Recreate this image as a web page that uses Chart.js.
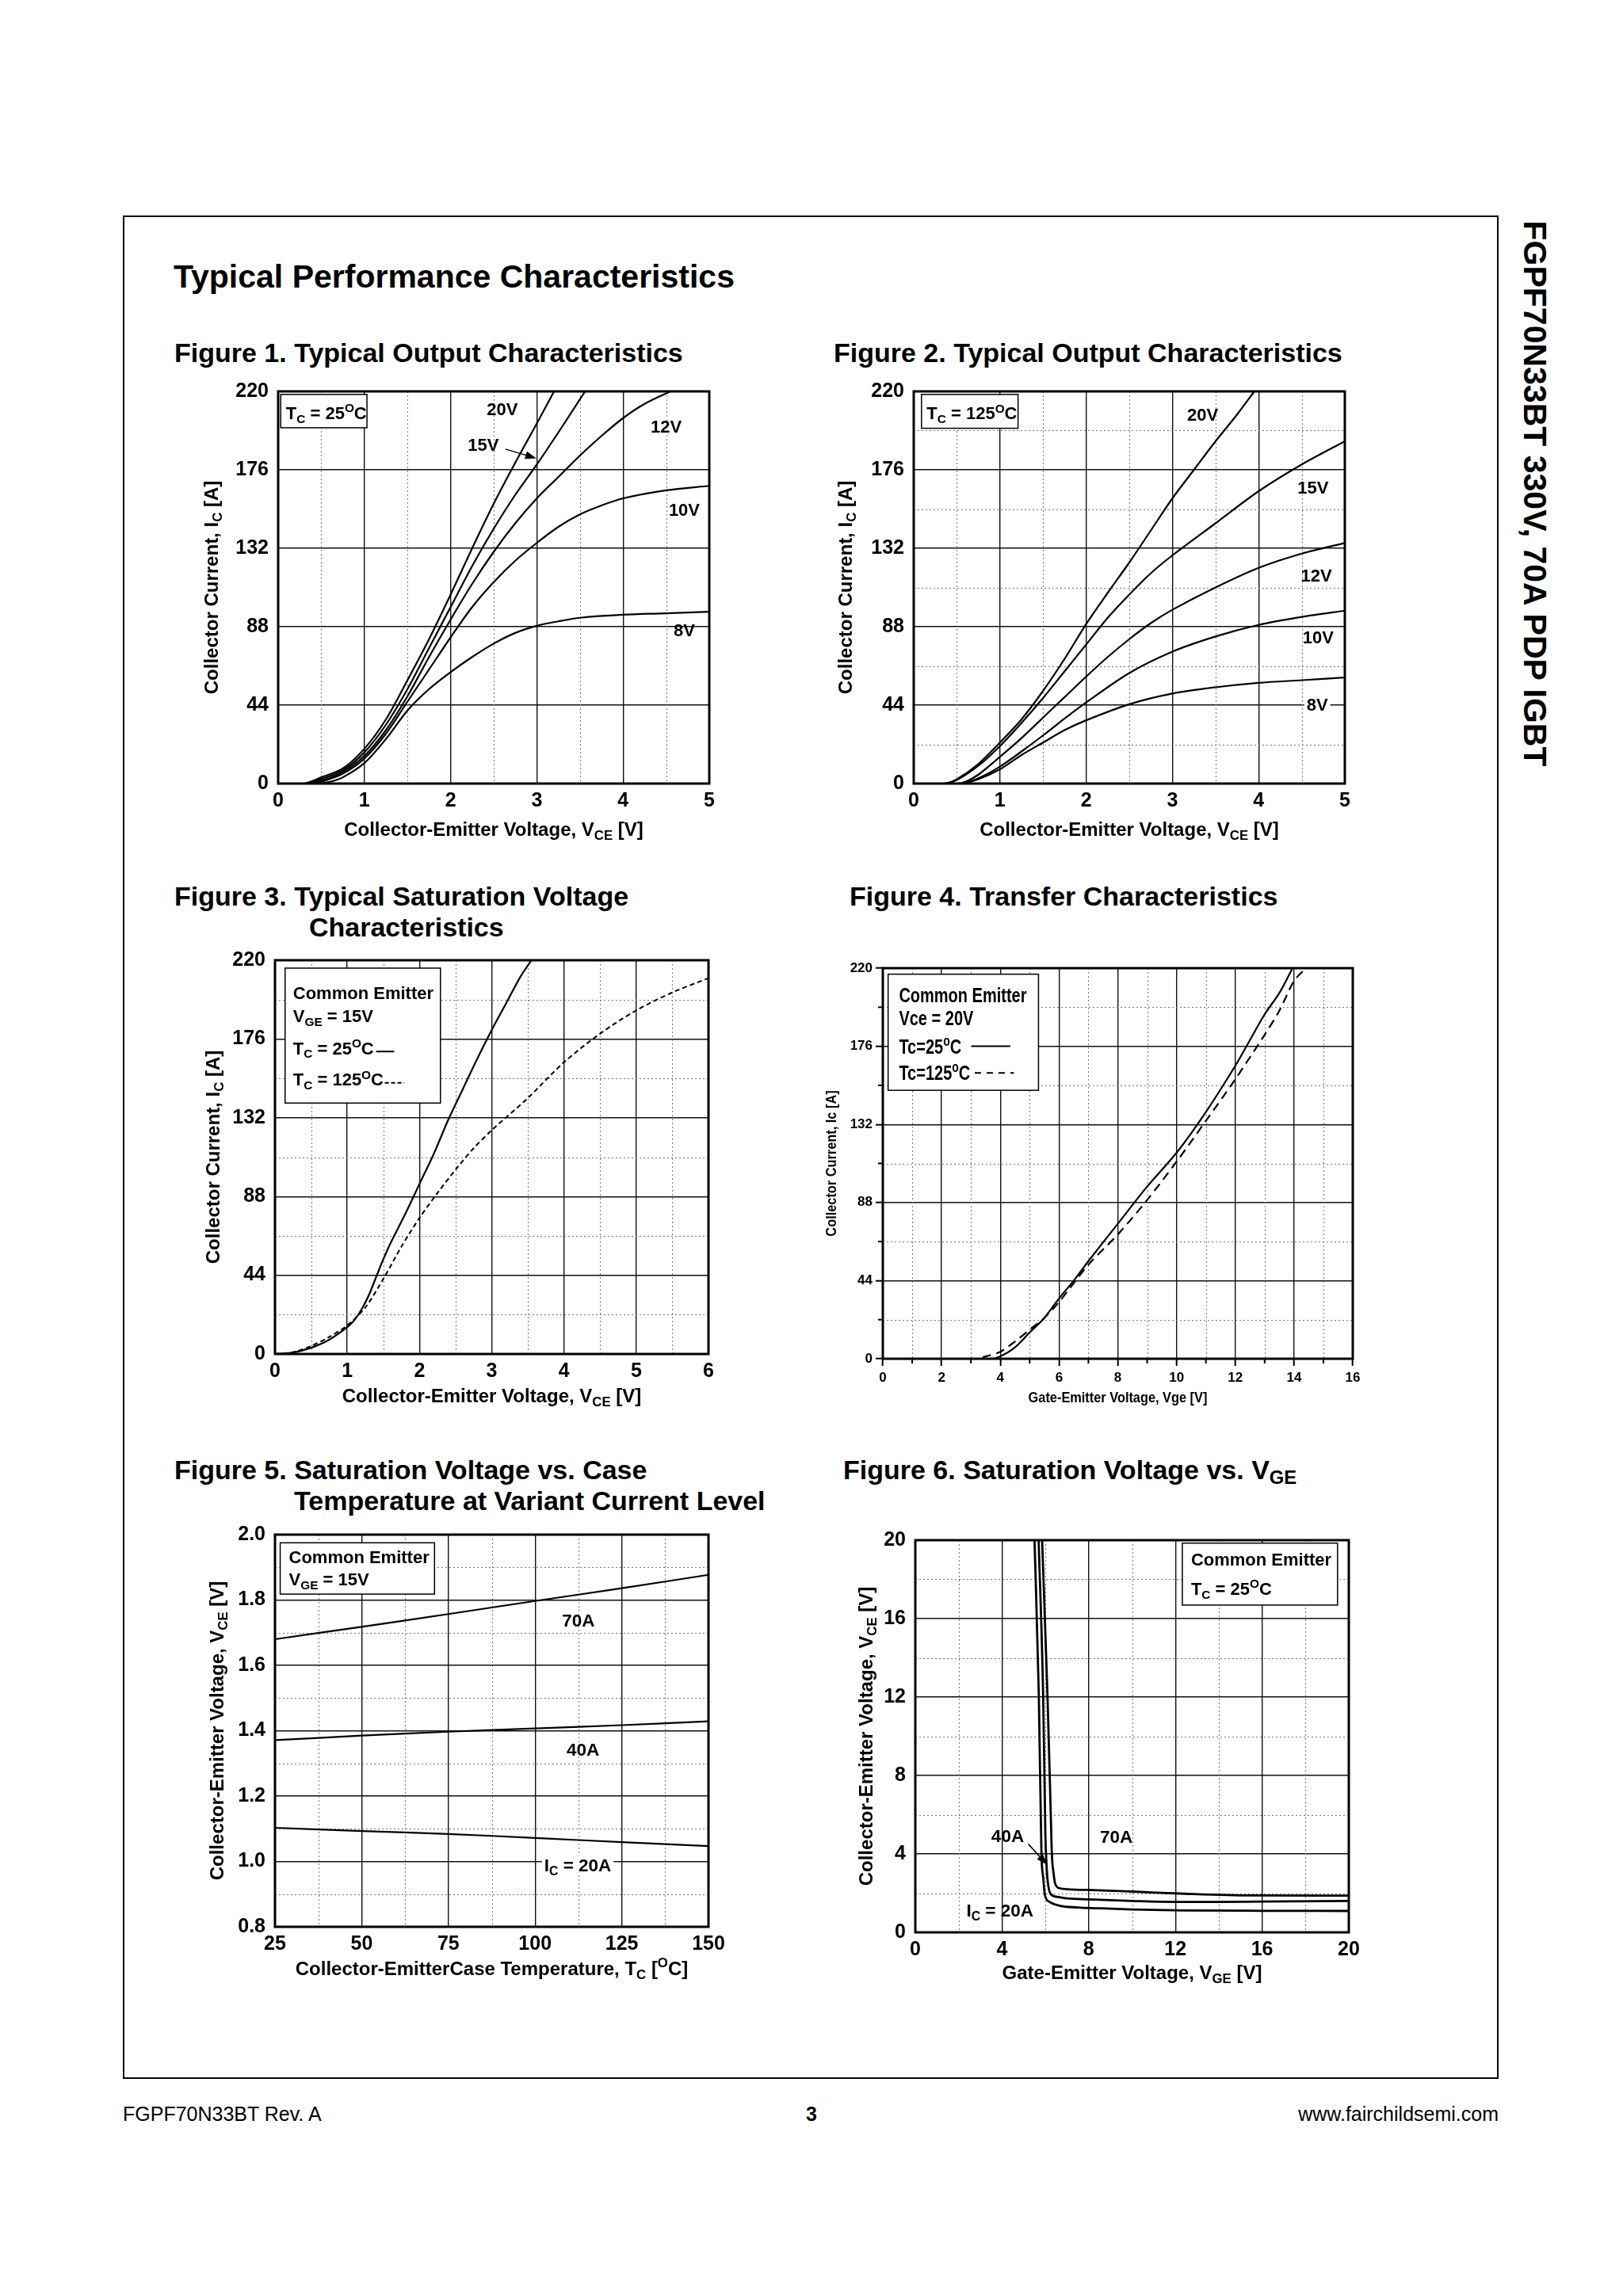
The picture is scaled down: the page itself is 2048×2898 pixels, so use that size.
<!DOCTYPE html>
<html>
<head>
<meta charset="utf-8">
<script src="https://cdn.jsdelivr.net/npm/chart.js@4.4.0/dist/chart.umd.min.js"></script>
<style>
  html, body { margin: 0; padding: 0; background: #fff; }
  body { width: 2048px; height: 2898px; position: relative; overflow: hidden;
         font-family: "Liberation Sans", Arial, sans-serif; color: #000; }
  .frame { position: absolute; left: 155px; top: 272px; width: 1736px; height: 2352px;
           border: 2px solid #000; box-sizing: border-box; }
  .h { position: absolute; font-weight: bold; white-space: nowrap; line-height: 1; }
  .f { position: absolute; white-space: nowrap; line-height: 1; font-size: 25px; }
  .side { position: absolute; left: 1936px; top: 623px; font-weight: bold; font-size: 41px;
          white-space: nowrap; line-height: 1; transform: translate(-50%, -50%) rotate(90deg); }
  sub { font-size: 70%; vertical-align: -0.25em; }
  canvas { position: absolute; }
</style>
</head>
<body>
<div class="frame"></div>
<div class="h" style="left:219px;top:329px;font-size:41px;">Typical Performance Characteristics</div>
<div class="h" style="left:220px;top:428px;font-size:34px;">Figure 1. Typical Output Characteristics</div>
<div class="h" style="left:1052px;top:428px;font-size:34px;">Figure 2. Typical Output Characteristics</div>
<div class="h" style="left:220px;top:1114px;font-size:34px;">Figure 3. Typical Saturation Voltage</div>
<div class="h" style="left:390px;top:1153px;font-size:34px;">Characteristics</div>
<div class="h" style="left:1072px;top:1114px;font-size:34px;">Figure 4. Transfer Characteristics</div>
<div class="h" style="left:220px;top:1838px;font-size:34px;">Figure 5. Saturation Voltage vs. Case</div>
<div class="h" style="left:371px;top:1877px;font-size:34px;">Temperature at Variant Current Level</div>
<div class="h" style="left:1064px;top:1838px;font-size:34px;">Figure 6. Saturation Voltage vs. V<sub>GE</sub></div>
<div class="side">FGPF70N33BT 330V, 70A PDP IGBT</div>
<div class="f" style="left:155px;top:2656px;">FGPF70N33BT Rev. A</div>
<div class="f" style="left:1024px;top:2656px;font-weight:bold;transform:translateX(-50%);">3</div>
<div class="f" style="right:157px;top:2656px;">www.fairchildsemi.com</div>

<script>
const FONT = '"Liberation Sans", Arial, sans-serif';

// ---- Figure 1: output characteristics, Tc = 25C ----
const f1XTicks = [0, 1, 2, 3, 4, 5];
const f1YTicks = [0, 44, 88, 132, 176, 220];
const f1x20 = [0, 0.3, 0.5, 0.75, 1.0, 1.25, 1.5, 1.75, 2.0, 2.25, 2.5, 2.75, 3.0, 3.2];
const f1y20 = [0, 0, 3.5, 8.5, 19.5, 36, 58, 81, 106, 132, 157, 180, 202, 220];
const f1x15 = [0, 0.3, 0.5, 0.75, 1.0, 1.25, 1.5, 1.75, 2.0, 2.25, 2.5, 2.75, 3.0, 3.25, 3.56];
const f1y15 = [0, 0, 2.5, 7.5, 17.5, 33, 53, 76, 99, 122, 143, 162, 179, 197, 220];
const f1x12 = [0, 0.35, 0.5, 0.75, 1.0, 1.25, 1.5, 1.75, 2.0, 2.25, 2.5, 2.75, 3.0, 3.25, 3.5, 3.75, 4.0, 4.25, 4.55];
const f1y12 = [0, 0, 1.5, 6.5, 15.5, 30, 49, 71, 92, 112, 130, 146, 160, 172, 184, 195, 205, 213, 220];
const f1x10 = [0, 0.4, 0.5, 0.75, 1.0, 1.25, 1.5, 1.75, 2.0, 2.25, 2.5, 2.75, 3.0, 3.25, 3.5, 3.75, 4.0, 4.5, 5.0];
const f1y10 = [0, 0, 1, 5.5, 14, 28, 46, 64, 82, 99, 113, 125, 135, 144, 151, 156, 160, 164.5, 167];
const f1x8 = [0, 0.45, 0.6, 0.75, 1.0, 1.25, 1.5, 1.75, 2.0, 2.25, 2.5, 2.75, 3.0, 3.25, 3.5, 4.0, 4.5, 5.0];
const f1y8 = [0, 0, 1, 3.5, 11.5, 25, 41, 53, 62.5, 71, 78.5, 84.5, 88.5, 91, 93, 94.7, 95.5, 96.4];

// ---- Figure 2: output characteristics, Tc = 125C ----
const f2x20 = [0, 0.35, 0.5, 0.75, 1.0, 1.25, 1.5, 1.75, 2.0, 2.25, 2.5, 2.75, 3.0, 3.25, 3.5, 3.75, 3.95];
const f2y20 = [0, 0, 2.5, 11, 23, 36, 52, 70, 89.5, 107, 124, 142, 160, 176, 192, 207, 220];
const f2x15 = [0, 0.35, 0.5, 0.75, 1.0, 1.25, 1.5, 1.75, 2.0, 2.25, 2.5, 2.75, 3.0, 3.5, 4.0, 4.5, 5.0];
const f2y15 = [0, 0, 2, 10, 21, 34, 48, 63, 78, 93, 106, 118, 128, 146, 164, 179, 192];
const f2x12 = [0, 0.5, 0.6, 0.75, 1.0, 1.25, 1.5, 1.75, 2.0, 2.25, 2.5, 2.75, 3.0, 3.5, 4.0, 4.5, 5.0];
const f2y12 = [0, 0, 1, 5, 15, 25.5, 37, 48.5, 60, 71, 81, 90, 97.5, 110, 121, 129, 135];
const f2x10 = [0, 0.55, 0.75, 1.0, 1.25, 1.5, 1.75, 2.0, 2.5, 3.0, 3.5, 4.0, 4.5, 5.0];
const f2y10 = [0, 0, 3, 9.5, 18, 27, 36.5, 45.5, 62, 74, 82.5, 89, 93.5, 97];
const f2x8 = [0, 0.55, 0.75, 1.0, 1.25, 1.5, 1.75, 2.0, 2.5, 3.0, 3.5, 4.0, 4.5, 5.0];
const f2y8 = [0, 0, 2.5, 8, 16, 23, 30, 35.5, 44.5, 50.5, 54, 56.5, 58, 59.5];

// ---- Figure 3: saturation voltage, VGE = 15V ----
const f3XTicks = [0, 1, 2, 3, 4, 5, 6];
const f3x25 = [0, 0.25, 0.5, 0.75, 1.0, 1.1, 1.2, 1.3, 1.4, 1.5, 1.6, 1.8, 2.0, 2.2, 2.4, 2.6, 2.8, 3.0, 3.2, 3.4, 3.55];
const f3y25 = [0, 0.8, 3.5, 8, 15, 19, 25, 33, 43, 53, 62, 78, 95, 112, 131, 148, 165, 181, 196, 211, 220];
const f3x125 = [0, 0.25, 0.5, 0.75, 1.0, 1.25, 1.5, 1.75, 2.0, 2.25, 2.5, 2.75, 3.0, 3.5, 4.0, 4.5, 5.0, 5.5, 6.0];
const f3y125 = [0, 1, 4.5, 9.5, 16, 26, 42, 60, 76, 90, 103, 115, 125, 143, 163, 179, 192, 202, 210];

// ---- Figure 4: transfer characteristics, Vce = 20V ----
const f4XTicks = [0, 2, 4, 6, 8, 10, 12, 14, 16];
const f4x25 = [0, 3.7, 4.0, 4.5, 5.0, 5.5, 6.0, 6.5, 7.0, 8.0, 9.0, 10.0, 11.0, 12.0, 12.5, 13.0, 13.5, 13.95];
const f4y25 = [0, 0, 1.3, 6.4, 14.8, 23, 34, 44, 55, 76, 97, 116, 139, 165, 179.5, 194, 206, 220];
const f4x125 = [0, 3.2, 3.5, 4.0, 4.5, 5.0, 5.5, 6.0, 7.0, 8.0, 9.0, 10.0, 11.0, 12.0, 13.0, 13.5, 14.0, 14.4];
const f4y125 = [0, 0, 1.3, 3.9, 9.7, 16.4, 23, 32, 53, 70, 89.4, 111, 134, 157.4, 182.5, 196, 212.8, 220];

// ---- Figure 5: VCE vs case temperature ----
const f5XTicks = [25, 50, 75, 100, 125, 150];
const f5YTicks = [0.8, 1.0, 1.2, 1.4, 1.6, 1.8, 2.0];
const f5Temp = [25, 50, 75, 100, 125, 150];
const f5v70 = [1.68, 1.718, 1.757, 1.797, 1.836, 1.877];
const f5v40 = [1.371, 1.385, 1.397, 1.407, 1.417, 1.429];
const f5v20 = [1.103, 1.093, 1.084, 1.072, 1.059, 1.047];

// ---- Figure 6: VCE vs VGE ----
const f6Ticks = [0, 4, 8, 12, 16, 20];
const f6x70 = [5.85, 6.1, 6.25, 6.3, 6.38, 6.45, 6.65, 7, 8.4, 10, 12.4, 15.5, 20];
const f6y70 = [20, 12, 6, 4, 3, 2.5, 2.25, 2.2, 2.15, 2.08, 1.97, 1.88, 1.87];
const f6x40 = [5.69, 5.9, 6.0, 6.05, 6.12, 6.25, 6.6, 7, 8, 10, 12, 14, 16, 20];
const f6y40 = [20, 12, 5, 3.5, 2.5, 1.95, 1.8, 1.73, 1.68, 1.6, 1.55, 1.55, 1.57, 1.6];
const f6x20 = [5.5, 5.7, 5.82, 5.9, 5.98, 6.2, 6.65, 7.5, 8.4, 10, 12.4, 16, 20];
const f6y20 = [20, 12, 4, 2.8, 1.9, 1.55, 1.36, 1.27, 1.23, 1.17, 1.12, 1.1, 1.09];

// minor (dotted) grid positions
const halfSteps5 = [0.5, 1.5, 2.5, 3.5, 4.5];
const halfSteps6 = [0.5, 1.5, 2.5, 3.5, 4.5, 5.5];
const ic22 = [22, 66, 110, 154, 198];
const oddSteps16 = [1, 3, 5, 7, 9, 11, 13, 15];
const tempMinor = [37.5, 62.5, 87.5, 112.5, 137.5];
const vceMinor = [0.9, 1.1, 1.3, 1.5, 1.7, 1.9];
const f6Minor = [2, 6, 10, 14, 18];

const PAD_L = 130, PAD_T = 30, PAD_R = 40, PAD_B = 85;
const sheets = {};

// "T_{C} = 25^{O}C" -> segments with sub/superscripts
function parseRich(s) {
  const out = [];
  const re = /([_^])\{([^}]*)\}/g;
  let last = 0, m;
  while ((m = re.exec(s))) {
    if (m.index > last) out.push({ t: s.slice(last, m.index), k: 0 });
    out.push({ t: m[2], k: m[1] === "_" ? 1 : 2 });
    last = re.lastIndex;
  }
  if (last < s.length) out.push({ t: s.slice(last), k: 0 });
  return out;
}

function drawRich(ctx, s, x, y, o) {
  const size = o.size || 20, sx = o.sx || 1;
  const segs = parseRich(s);
  let w = 0;
  segs.forEach((sg) => {
    sg.fs = sg.k ? size * 0.7 : size;
    ctx.font = `bold ${sg.fs}px ${FONT}`;
    sg.w = ctx.measureText(sg.t).width;
    w += sg.w;
  });
  ctx.save();
  ctx.translate(x, y);
  if (o.rot) ctx.rotate(o.rot);
  ctx.scale(sx, 1);
  let cx = o.align === "left" ? 0 : o.align === "right" ? -w : -w / 2;
  if (o.bg) {
    ctx.fillStyle = "#fff";
    ctx.fillRect(cx - 3, -size * 0.5, w + 6, size);
  }
  ctx.fillStyle = "#000";
  ctx.textAlign = "left";
  ctx.textBaseline = "alphabetic";
  const base = size * 0.36;
  segs.forEach((sg) => {
    ctx.font = `bold ${sg.fs}px ${FONT}`;
    const dy = sg.k === 1 ? size * 0.22 : sg.k === 2 ? -size * 0.4 : 0;
    ctx.fillText(sg.t, cx, base + dy);
    cx += sg.w;
  });
  ctx.restore();
}

function drawArrow(ctx, x1, y1, x2, y2) {
  const ang = Math.atan2(y2 - y1, x2 - x1);
  ctx.beginPath();
  ctx.moveTo(x1, y1);
  ctx.lineTo(x2 - 8 * Math.cos(ang), y2 - 8 * Math.sin(ang));
  ctx.stroke();
  ctx.beginPath();
  ctx.moveTo(x2, y2);
  ctx.lineTo(x2 - 14 * Math.cos(ang) + 5 * Math.sin(ang), y2 - 14 * Math.sin(ang) - 5 * Math.cos(ang));
  ctx.lineTo(x2 - 14 * Math.cos(ang) - 5 * Math.sin(ang), y2 - 14 * Math.sin(ang) + 5 * Math.cos(ang));
  ctx.closePath();
  ctx.fill();
}

// minor grid, legend boxes, curve labels, frame and axis titles
const sheetPlugin = {
  id: "sheet",
  beforeDatasetsDraw(chart) {
    const o = sheets[chart.canvas.id];
    const { ctx, chartArea: a } = chart;
    const xs = chart.scales.x, ys = chart.scales.y;
    ctx.save();
    ctx.strokeStyle = "#777";
    ctx.lineWidth = 1;
    ctx.setLineDash([2, 3]);
    (o.minorX || []).forEach((v) => {
      const p = Math.round(xs.getPixelForValue(v)) + 0.5;
      ctx.beginPath(); ctx.moveTo(p, a.top); ctx.lineTo(p, a.bottom); ctx.stroke();
    });
    (o.minorY || []).forEach((v) => {
      const p = Math.round(ys.getPixelForValue(v)) + 0.5;
      ctx.beginPath(); ctx.moveTo(a.left, p); ctx.lineTo(a.right, p); ctx.stroke();
    });
    if (o.minorTick) {
      ctx.setLineDash([]);
      ctx.strokeStyle = "#000";
      ctx.lineWidth = 2;
      (o.minorX || []).forEach((v) => {
        const p = xs.getPixelForValue(v);
        ctx.beginPath(); ctx.moveTo(p, a.bottom); ctx.lineTo(p, a.bottom + o.minorTick); ctx.stroke();
      });
      (o.minorY || []).forEach((v) => {
        const p = ys.getPixelForValue(v);
        ctx.beginPath(); ctx.moveTo(a.left, p); ctx.lineTo(a.left - o.minorTick, p); ctx.stroke();
      });
    }
    ctx.restore();
  },
  afterDatasetsDraw(chart) {
    const o = sheets[chart.canvas.id];
    const { ctx, chartArea: a } = chart;
    const px = (v) => chart.scales.x.getPixelForValue(v);
    const py = (v) => chart.scales.y.getPixelForValue(v);
    ctx.save();
    (o.boxes || []).forEach((b) => {
      const x1 = px(b.x1), x2 = px(b.x2), y1 = py(b.y1), y2 = py(b.y2);
      ctx.fillStyle = "#fff";
      ctx.fillRect(x1, y1, x2 - x1, y2 - y1);
      ctx.strokeStyle = "#000";
      ctx.lineWidth = 1.5;
      ctx.setLineDash([]);
      ctx.strokeRect(x1, y1, x2 - x1, y2 - y1);
      b.lines.forEach((l, i) => drawRich(ctx, l, px(b.tx), py(b.ty[i]), { size: b.size, align: "left", sx: b.sx }));
      (b.samples || []).forEach((s) => {
        ctx.beginPath();
        ctx.setLineDash(s.dash || []);
        ctx.lineWidth = 2;
        ctx.moveTo(px(s.x1), py(s.y));
        ctx.lineTo(px(s.x2), py(s.y));
        ctx.stroke();
      });
    });
    ctx.setLineDash([]);
    (o.labels || []).forEach((l) => drawRich(ctx, l.t, px(l.x), py(l.y), { size: l.size || o.lSize, bg: l.bg }));
    ctx.strokeStyle = "#000";
    ctx.fillStyle = "#000";
    ctx.lineWidth = 1.5;
    (o.arrows || []).forEach((r) => drawArrow(ctx, px(r[0]), py(r[1]), px(r[2]), py(r[3])));
    ctx.lineWidth = 3;
    ctx.strokeRect(a.left, a.top, a.width, a.height);
    drawRich(ctx, o.xTitle, (a.left + a.right) / 2, a.bottom + o.xOff, { size: o.tSize, sx: o.tSx });
    drawRich(ctx, o.yTitle, a.left - o.yOff, (a.top + a.bottom) / 2, { size: o.tSize, sx: o.tSx, rot: -Math.PI / 2 });
    ctx.restore();
  },
};

function axis(ticksArr, min, max, t) {
  return {
    type: "linear",
    min: min,
    max: max,
    afterBuildTicks: (s) => { s.ticks = ticksArr.map((v) => ({ value: v })); },
    afterFit: (s) => { if (t.w) s.width = t.w; if (t.h) s.height = t.h; },
    grid: { color: "#111", lineWidth: 1.4, drawTicks: !!t.tick, tickLength: t.tick || 0,
            tickColor: "#000", tickWidth: 2 },
    border: { display: false },
    ticks: { color: "#000", autoSkip: false, maxRotation: 0, padding: t.pad,
             font: { family: FONT, size: t.size, weight: "bold" },
             callback: t.fmt || ((v) => String(v)) },
  };
}

// smooth: bezier tension for the output curves, monotone for sharp knees
function curve(xs, ys, dash, width, sharp) {
  return {
    data: xs.map((x, i) => ({ x: x, y: ys[i] })),
    borderColor: "#000",
    borderWidth: width || 2.2,
    borderDash: dash || [],
    pointRadius: 0,
    fill: false,
    tension: sharp ? 0 : 0.3,
    cubicInterpolationMode: sharp ? "monotone" : "default",
  };
}

function makeChart(id, rect, o, xAxis, yAxis) {
  const cv = document.createElement("canvas");
  cv.id = id;
  const W = rect[2] - rect[0] + PAD_L + PAD_R;
  const H = rect[3] - rect[1] + PAD_T + PAD_B;
  cv.width = W;
  cv.height = H;
  cv.style.left = rect[0] - PAD_L + "px";
  cv.style.top = rect[1] - PAD_T + "px";
  cv.style.width = W + "px";
  cv.style.height = H + "px";
  document.body.appendChild(cv);
  sheets[id] = o;
  return new Chart(cv, {
    type: "line",
    data: { datasets: o.datasets },
    options: {
      responsive: false,
      animation: false,
      events: [],
      devicePixelRatio: 1,
      layout: { padding: { top: PAD_T, right: PAD_R, left: 0, bottom: 0 } },
      plugins: { legend: { display: false }, tooltip: { enabled: false } },
      scales: { x: xAxis, y: yAxis },
    },
    plugins: [sheetPlugin],
  });
}

const big = { size: 25, w: PAD_L, pad: 12 };
const bigX = { size: 25, h: PAD_B, pad: 7 };

makeChart("fig1", [351, 494, 895, 989], {
  datasets: [curve(f1x20, f1y20), curve(f1x15, f1y15), curve(f1x12, f1y12), curve(f1x10, f1y10), curve(f1x8, f1y8)],
  minorX: halfSteps5,
  xTitle: "Collector-Emitter Voltage, V_{CE} [V]", yTitle: "Collector Current, I_{C} [A]",
  xOff: 57, yOff: 85, tSize: 24, lSize: 22,
  boxes: [{ x1: 0.03, x2: 1.03, y1: 218.3, y2: 199.6, tx: 0.09, ty: [208], lines: ["T_{C} = 25^{O}C"], size: 22 }],
  labels: [{ t: "20V", x: 2.6, y: 210 }, { t: "15V", x: 2.38, y: 190 }, { t: "12V", x: 4.5, y: 200.5 },
           { t: "10V", x: 4.71, y: 153.8 }, { t: "8V", x: 4.71, y: 86 }],
  arrows: [[2.635, 187.6, 2.995, 182.5]],
}, axis(f1XTicks, 0, 5, bigX), axis(f1YTicks, 0, 220, big));

makeChart("fig2", [1153, 494, 1697, 989], {
  datasets: [curve(f2x20, f2y20), curve(f2x15, f2y15), curve(f2x12, f2y12), curve(f2x10, f2y10), curve(f2x8, f2y8)],
  minorX: halfSteps5, minorY: ic22,
  xTitle: "Collector-Emitter Voltage, V_{CE} [V]", yTitle: "Collector Current, I_{C} [A]",
  xOff: 57, yOff: 87, tSize: 24, lSize: 22,
  boxes: [{ x1: 0.09, x2: 1.21, y1: 218.3, y2: 199.3, tx: 0.15, ty: [207.8], lines: ["T_{C} = 125^{O}C"], size: 22 }],
  labels: [{ t: "20V", x: 3.35, y: 207 }, { t: "15V", x: 4.63, y: 166 }, { t: "12V", x: 4.67, y: 117 },
           { t: "10V", x: 4.69, y: 82 }, { t: "8V", x: 4.68, y: 44.6, bg: true }],
}, axis(f1XTicks, 0, 5, bigX), axis(f1YTicks, 0, 220, big));

makeChart("fig3", [347, 1212, 894, 1709], {
  datasets: [curve(f3x25, f3y25), curve(f3x125, f3y125, [6, 4], 2)],
  minorX: halfSteps6, minorY: ic22,
  xTitle: "Collector-Emitter Voltage, V_{CE} [V]", yTitle: "Collector Current, I_{C} [A]",
  xOff: 52, yOff: 79, tSize: 24, lSize: 22,
  boxes: [{ x1: 0.14, x2: 2.29, y1: 215.6, y2: 140.2, tx: 0.25, ty: [202, 189, 171, 153.4], size: 22,
            lines: ["Common Emitter", "V_{GE} = 15V", "T_{C} = 25^{O}C", "T_{C} = 125^{O}C"],
            samples: [{ x1: 1.4, x2: 1.65, y: 169 }, { x1: 1.52, x2: 1.79, y: 151.5, dash: [5, 3] }] }],
}, axis(f3XTicks, 0, 6, bigX), axis(f1YTicks, 0, 220, big));

makeChart("fig4", [1114, 1222, 1707, 1715], {
  datasets: [curve(f4x25, f4y25), curve(f4x125, f4y125, [11, 7])],
  minorX: oddSteps16, minorY: ic22, minorTick: 6,
  xTitle: "Gate-Emitter Voltage, Vge [V]", yTitle: "Collector Current, Ic [A]",
  xOff: 48, yOff: 66, tSize: 19, tSx: 0.86, lSize: 20,
  boxes: [{ x1: 0.18, x2: 5.3, y1: 216.6, y2: 151.2, tx: 0.55, ty: [205, 191.8, 176, 161], size: 25, sx: 0.8,
            lines: ["Common Emitter", "Vce = 20V", "Tc=25^{o}C", "Tc=125^{o}C"],
            samples: [{ x1: 3.01, x2: 4.34, y: 176 }, { x1: 3.13, x2: 4.46, y: 161, dash: [8, 7] }] }],
}, axis(f4XTicks, 0, 16, { size: 17, h: PAD_B, pad: 5, tick: 9 }),
   axis(f1YTicks, 0, 220, { size: 17, w: PAD_L, pad: 4, tick: 9 }));

makeChart("fig5", [347, 1937, 894, 2432], {
  datasets: [curve(f5Temp, f5v70), curve(f5Temp, f5v40), curve(f5Temp, f5v20)],
  minorX: tempMinor, minorY: vceMinor,
  xTitle: "Collector-EmitterCase Temperature, T_{C} [^{O}C]", yTitle: "Collector-Emitter Voltage, V_{CE} [V]",
  xOff: 52, yOff: 74, tSize: 24, lSize: 22.5,
  boxes: [{ x1: 26.5, x2: 71, y1: 1.975, y2: 1.818, tx: 29, ty: [1.932, 1.864], size: 22,
            lines: ["Common Emitter", "V_{GE} = 15V"] }],
  labels: [{ t: "70A", x: 112.5, y: 1.738 }, { t: "40A", x: 113.8, y: 1.343 },
           { t: "I_{C} = 20A", x: 112.3, y: 0.99, bg: true }],
}, axis(f5XTicks, 25, 150, bigX), axis(f5YTicks, 0.8, 2.0, Object.assign({}, big, { fmt: (v) => v.toFixed(1) })));

makeChart("fig6", [1155, 1944, 1702, 2439], {
  datasets: [curve(f6x70, f6y70, null, 2.8, true), curve(f6x40, f6y40, null, 2.8, true), curve(f6x20, f6y20, null, 2.8, true)],
  minorX: f6Minor, minorY: f6Minor,
  xTitle: "Gate-Emitter Voltage, V_{GE} [V]", yTitle: "Collector-Emitter Voltage, V_{CE} [V]",
  xOff: 50, yOff: 63, tSize: 24, lSize: 22.5,
  boxes: [{ x1: 12.32, x2: 19.48, y1: 19.85, y2: 16.69, tx: 12.72, ty: [19.04, 17.53], size: 22,
            lines: ["Common Emitter", "T_{C} = 25^{O}C"] }],
  labels: [{ t: "40A", x: 4.26, y: 4.93 }, { t: "70A", x: 9.27, y: 4.9 }, { t: "I_{C} = 20A", x: 3.9, y: 1.12 }],
  arrows: [[5.21, 4.51, 6.09, 3.44]],
}, axis(f6Ticks, 0, 20, bigX), axis(f6Ticks, 0, 20, big));
</script>
</body>
</html>
